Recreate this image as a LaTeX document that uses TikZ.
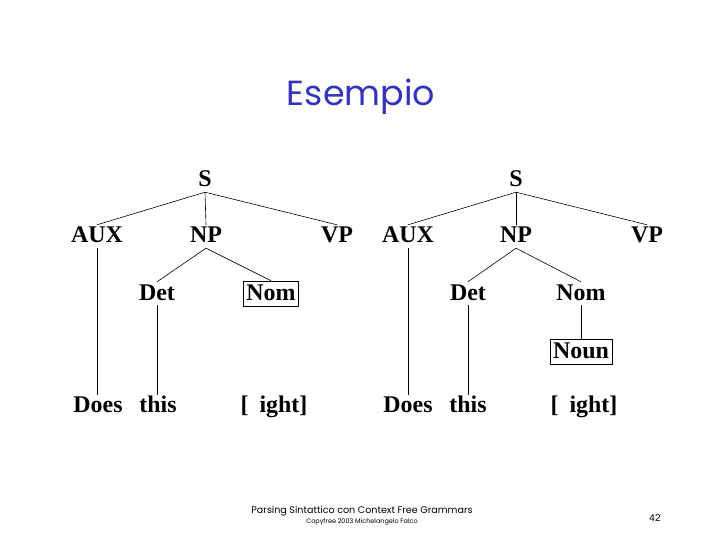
\documentclass[tikz,border=0pt]{standalone}
\usepackage{fontspec}
\setmainfont{Liberation Serif}
\newfontfamily\slidefont{Poppins}
\newfontfamily\numfont{Liberation Sans}
\usepackage{xcolor}
\usetikzlibrary{positioning}
\definecolor{titleblue}{RGB}{51,51,187}

\tikzset{
  cat/.style={font=\fontsize{24}{27}\selectfont\bfseries, text height=16bp, text depth=3bp, inner xsep=2bp, inner ysep=2bp, anchor=base},
  word/.style={cat, inner ysep=1bp},
  catbox/.style={cat, draw, line width=0.6pt, inner xsep=3bp, inner ysep=3bp},
  branch/.style={black, line width=0.6pt}
}

\begin{document}
\begin{tikzpicture}[x=1bp,y=-1bp]
\useasboundingbox (0,0) rectangle (720,540);

%Title
\node[anchor=base, font=\slidefont\fontsize{35}{40}\selectfont, text=titleblue] (title) at (361,106) {Esempio};

%Left tree
\node[cat] (s1) at (205,187) {S};
\node[cat] (aux1) at (97,243) {AUX};
\node[cat] (np1) at (206,243) {NP};
\node[cat] (vp1) at (337,243) {VP};
\node[cat] (det1) at (157,300) {Det};
\node[catbox] (nom1) at (271,300) {Nom};
\node[word] (does1) at (98,412) {Does};
\node[word] (this1) at (158,412) {this};
\node[word] (fl1) at (274,412) {[\hspace{11bp}ight]};

\draw[branch] (s1.south) -- (aux1.north);
\draw[branch] (s1.south) -- (np1.north);
\draw[branch] (s1.south) -- (vp1.north);
\draw[branch] (np1.south) -- (det1.north);
\draw[branch] (np1.south) -- (nom1.north);
\draw[branch] (aux1.south) -- (aux1.south |- does1.north);
\draw[branch] (det1.south) -- (det1.south |- this1.north);

%Right tree
\node[cat] (s2) at (516,187) {S};
\node[cat] (aux2) at (408,243) {AUX};
\node[cat] (np2) at (516,243) {NP};
\node[cat] (vp2) at (647,243) {VP};
\node[cat] (det2) at (468,300) {Det};
\node[cat] (nom2) at (581,300) {Nom};
\node[catbox] (noun2) at (581,358) {Noun};
\node[word] (does2) at (408,412) {Does};
\node[word] (this2) at (468,412) {this};
\node[word] (fl2) at (584,412) {[\hspace{11bp}ight]};

\draw[branch] (s2.south) -- (aux2.north);
\draw[branch] (s2.south) -- (np2.north);
\draw[branch] (s2.south) -- (vp2.north);
\draw[branch] (np2.south) -- (det2.north);
\draw[branch] (np2.south) -- (nom2.north);
\draw[branch] (nom2.south) -- (noun2.north);
\draw[branch] (aux2.south) -- (aux2.south |- does2.north);
\draw[branch] (det2.south) -- (det2.south |- this2.north);

%Footer
\node[anchor=base, font=\slidefont\fontsize{9.6}{11}\selectfont] (foot1) at (362,513) {Parsing Sintattico con Context Free Grammars};
\node[anchor=base, font=\slidefont\fontsize{6.5}{7}\selectfont] (foot2) at (362,523) {Copyfree 2003 Michelangelo Falco};
\node[anchor=base, font=\numfont\fontsize{10}{11}\selectfont] (page) at (655,521) {42};
\end{tikzpicture}
\end{document}
